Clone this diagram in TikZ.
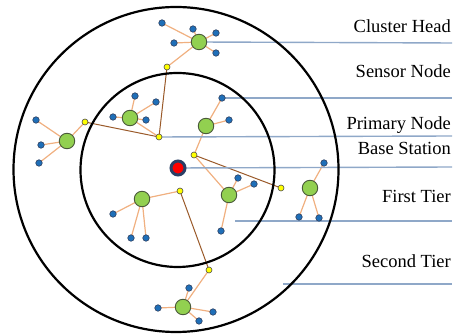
\documentclass[tikz,border=0pt]{standalone}
\usepackage{fontspec}
\setmainfont{Liberation Serif}
\definecolor{sensorblue}{HTML}{1F6FB8}
\definecolor{sensoredge}{HTML}{2F3F5F}
\definecolor{chgreen}{HTML}{92D050}
\definecolor{chedge}{HTML}{4A5A3A}
\definecolor{pnyellow}{HTML}{FFFF00}
\definecolor{bsred}{HTML}{FF0000}
\definecolor{bsedge}{HTML}{2B3F66}
\definecolor{linkorange}{HTML}{F0B080}
\definecolor{linkbrown}{HTML}{9A5A2A}
\definecolor{labelline}{HTML}{8FA8C8}
\pgfdeclarelayer{back}
\pgfsetlayers{back,main}
\begin{document}
\begin{tikzpicture}[x=1pt,y=-1pt,
  sensor/.style={circle,fill=sensorblue,draw=sensoredge,line width=0.6pt,minimum size=6.5pt,inner sep=0pt},
  chead/.style={circle,fill=chgreen,draw=chedge,line width=0.9pt,minimum size=15.5pt,inner sep=0pt},
  pnode/.style={circle,fill=pnyellow,draw=black!70,line width=0.6pt,minimum size=6pt,inner sep=0pt},
  bstation/.style={circle,fill=bsred,draw=bsedge,line width=3pt,minimum size=14pt,inner sep=0pt},
  tier/.style={draw=black,line width=2.2pt},
  link/.style={draw=linkorange,line width=1.2pt},
  trunk/.style={draw=linkbrown,line width=1pt},
  lbl/.style={anchor=base east,font=\fontsize{18.5}{21}\selectfont,inner sep=0pt},
  lline/.style={draw=labelline,line width=1.4pt}]
\useasboundingbox (0,0) rectangle (453,336);
% tiers
\draw[tier] (176,169.5) circle[radius=162.5];
\draw[tier] (177.5,170) circle[radius=97];
% label lines with free ends
\coordinate (eCH) at (452,43);
\coordinate (eSN) at (452,98);
\coordinate (ePN) at (452,136);
\coordinate (eBS) at (452,167);
\coordinate (sFT) at (235,221);
\coordinate (eFT) at (452,221);
\coordinate (sST) at (283,284);
\coordinate (eST) at (452,284);
% base station
\node[bstation] (bs) at (178,168) {};
% primary nodes
\node[pnode] (p1) at (167,67) {};
\node[pnode] (p2) at (85,122) {};
\node[pnode] (p3) at (159,137) {};
\node[pnode] (p4) at (194,155) {};
\node[pnode] (p5) at (281,188) {};
\node[pnode] (p6) at (180,191) {};
\node[pnode] (p7) at (209,270) {};
% cluster heads
\node[chead] (c1) at (199,42) {};
\node[chead] (c2) at (67,141) {};
\node[chead] (c3) at (130,118) {};
\node[chead] (c4) at (206,126) {};
\node[chead] (c5) at (229,195) {};
\node[chead] (c6) at (310,188) {};
\node[chead] (c7) at (142,199) {};
\node[chead] (c8) at (183,307) {};
% sensors
\node[sensor] (s11) at (162,23) {};
\node[sensor] (s12) at (193,29) {};
\node[sensor] (s13) at (216,33) {};
\node[sensor] (s14) at (174,43) {};
\node[sensor] (s15) at (216,53) {};
\node[sensor] (s21) at (36,120) {};
\node[sensor] (s22) at (41,145) {};
\node[sensor] (s23) at (39,163) {};
\node[sensor] (s31) at (135,96) {};
\node[sensor] (s32) at (156,102) {};
\node[sensor] (s33) at (113,117) {};
\node[sensor] (s34) at (146,120) {};
\node[sensor] (s41) at (222,98) {};
\node[sensor] (s42) at (229,120) {};
\node[sensor] (s51) at (238,178) {};
\node[sensor] (s52) at (254,184) {};
\node[sensor] (s53) at (221,231) {};
\node[sensor] (s61) at (324,163) {};
\node[sensor] (s62) at (299,217) {};
\node[sensor] (s63) at (319,218) {};
\node[sensor] (s71) at (113,214) {};
\node[sensor] (s72) at (131,238) {};
\node[sensor] (s73) at (146,238) {};
\node[sensor] (s81) at (189,288) {};
\node[sensor] (s82) at (158,308) {};
\node[sensor] (s83) at (213,312) {};
\node[sensor] (s84) at (199,321) {};
% connectors (behind nodes)
\begin{pgfonlayer}{back}
\foreach \c/\s in {c1/s11,c1/s12,c1/s13,c1/s14,c1/s15,c1/p1,
  c2/s21,c2/s22,c2/s23,c2/p2,
  c3/s31,c3/s32,c3/s33,c3/s34,c3/p3,
  c4/s41,c4/s42,c4/p4,
  c5/s51,c5/s52,c5/s53,c5/p4,
  c6/s61,c6/s62,c6/s63,
  c7/s71,c7/s72,c7/s73,c7/p6,
  c8/s81,c8/s82,c8/s83,c8/s84,c8/p7}
  \draw[link] (\c.center) -- (\s.center);
\draw[trunk] (p1.center) -- (p3.center);
\draw[trunk] (p2.center) -- (p3.center);
\draw[trunk] (p4.center) -- (p5.center);
\draw[trunk] (p6.center) -- (p7.center);
% label lines
\draw[lline] (c1.center) -- (eCH);
\draw[lline] (s41.center) -- (eSN);
\draw[lline] (p3.center) -- (ePN);
\draw[lline] (bs.center) -- (eBS);
\draw[lline] (sFT) -- (eFT);
\draw[lline] (sST) -- (eST);
\end{pgfonlayer}
% labels
\node[lbl] (tCH) at (451,33) {Cluster Head};
\node[lbl] (tSN) at (451,78) {Sensor Node};
\node[lbl] (tPN) at (451,130) {Primary Node};
\node[lbl] (tBS) at (451,155) {Base Station};
\node[lbl] (tFT) at (451,203) {First Tier};
\node[lbl] (tST) at (451,268) {Second Tier};
\end{tikzpicture}
\end{document}
